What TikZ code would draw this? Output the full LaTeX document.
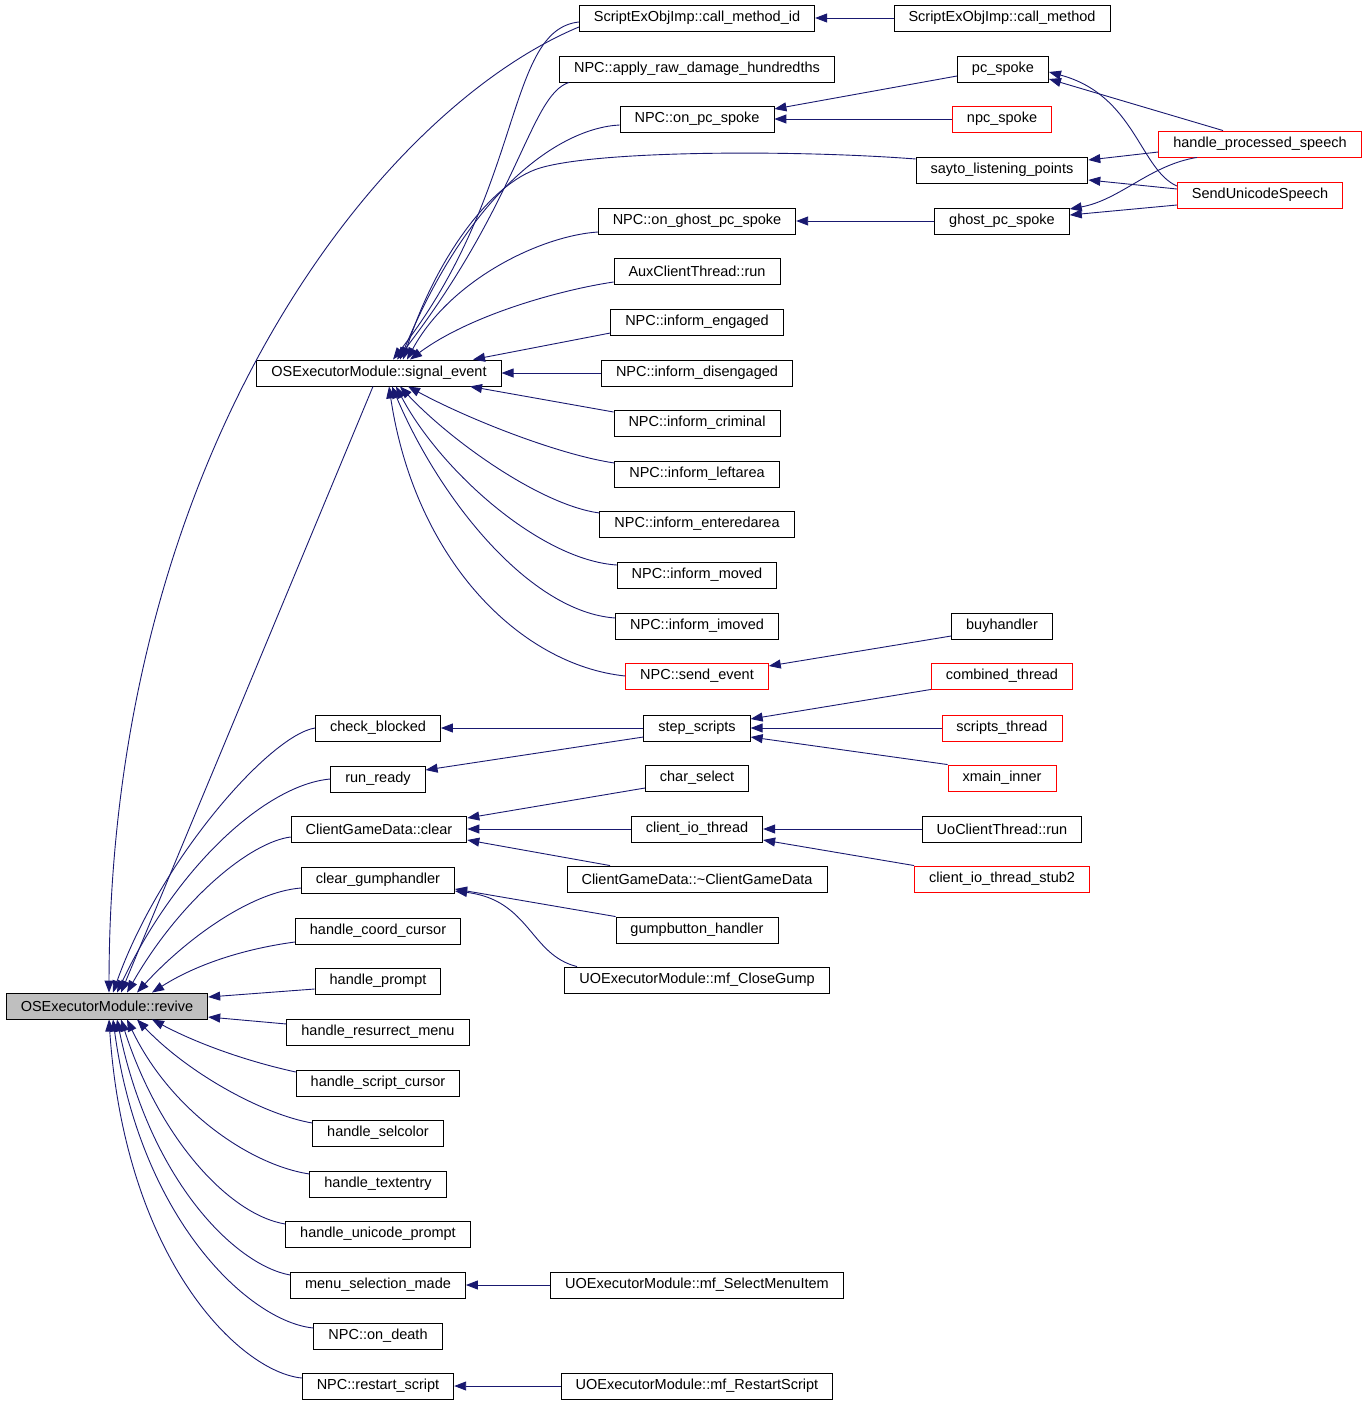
\documentclass[tikz,border=0pt]{standalone}
\usepackage{fontspec}
\usepackage{tikz}
\usetikzlibrary{arrows.meta}
\newfontfamily\doxfont{Liberation Sans}
\definecolor{edgeblue}{HTML}{191970}

\begin{document}
\begin{tikzpicture}[x=1pt,y=-1pt,
  fn/.style={draw=black,line width=0.9pt,fill=white,font=\doxfont\fontsize{14.5}{16}\selectfont,inner xsep=14.5pt,inner ysep=0pt,minimum height=26pt},
  fnred/.style={fn,draw=red},
  fnroot/.style={fn,fill=black!25},
  call/.style={draw=edgeblue,line width=0.9pt,-{Triangle[length=12pt,width=9pt]}}]
	\useasboundingbox (0,0) rectangle (1365,1405);
	% Root of the graph
	\node[fnroot] (revive) at (107,1006) {OSExecutorModule::revive};
	% Direct callers of revive
	\node[fn] (sigevent) at (379,373) {OSExecutorModule::signal\_event};
	\node[fn] (chkblocked) at (378,728) {check\_blocked};
	\node[fn] (runready) at (378,779) {run\_ready};
	\node[fn] (cgdclear) at (379,829) {ClientGameData::clear};
	\node[fn] (cleargump) at (378,880) {clear\_gumphandler};
	\node[fn] (hcoord) at (378,931) {handle\_coord\_cursor};
	\node[fn] (hprompt) at (378,981) {handle\_prompt};
	\node[fn] (hresurrect) at (378,1032) {handle\_resurrect\_menu};
	\node[fn] (hscript) at (378,1083) {handle\_script\_cursor};
	\node[fn] (hselcolor) at (378,1133) {handle\_selcolor};
	\node[fn] (htextentry) at (378,1184) {handle\_textentry};
	\node[fn] (hunicode) at (378,1234) {handle\_unicode\_prompt};
	\node[fn] (menusel) at (378,1285) {menu\_selection\_made};
	\node[fn] (ondeath) at (378,1336) {NPC::on\_death};
	\node[fn] (restart) at (378,1386) {NPC::restart\_script};
	% Third column
	\node[fn] (callid) at (697,18) {ScriptExObjImp::call\_method\_id};
	\node[fn] (rawdamage) at (697,69) {NPC::apply\_raw\_damage\_hundredths};
	\node[fn] (onpcspoke) at (697,119) {NPC::on\_pc\_spoke};
	\node[fn] (onghost) at (697,221) {NPC::on\_ghost\_pc\_spoke};
	\node[fn] (auxrun) at (697,271) {AuxClientThread::run};
	\node[fn] (engaged) at (697,322) {NPC::inform\_engaged};
	\node[fn] (disengaged) at (697,373) {NPC::inform\_disengaged};
	\node[fn] (criminal) at (697,423) {NPC::inform\_criminal};
	\node[fn] (leftarea) at (697,474) {NPC::inform\_leftarea};
	\node[fn] (enteredarea) at (697,524) {NPC::inform\_enteredarea};
	\node[fn] (moved) at (697,575) {NPC::inform\_moved};
	\node[fn] (imoved) at (697,626) {NPC::inform\_imoved};
	\node[fnred] (sendevent) at (697,676) {NPC::send\_event};
	\node[fn] (stepscripts) at (697,728) {step\_scripts};
	\node[fn] (charselect) at (697,778) {char\_select};
	\node[fn] (iothread) at (697,829) {client\_io\_thread};
	\node[fn] (cgddtor) at (697,879) {ClientGameData::\textasciitilde ClientGameData};
	\node[fn] (gumpbutton) at (697,930) {gumpbutton\_handler};
	\node[fn] (closegump) at (697,980) {UOExecutorModule::mf\_CloseGump};
	\node[fn] (selectmenu) at (697,1285) {UOExecutorModule::mf\_SelectMenuItem};
	\node[fn] (restartscr) at (697,1386) {UOExecutorModule::mf\_RestartScript};
	% Fourth column
	\node[fn] (callmethod) at (1002,18) {ScriptExObjImp::call\_method};
	\node[fn] (pcspoke) at (1003,69) {pc\_spoke};
	\node[fnred] (npcspoke) at (1002,119) {npc\_spoke};
	\node[fn] (sayto) at (1002,170) {sayto\_listening\_points};
	\node[fn] (ghostspoke) at (1002,221) {ghost\_pc\_spoke};
	\node[fn] (buyhandler) at (1002,626) {buyhandler};
	\node[fnred] (combined) at (1002,676) {combined\_thread};
	\node[fnred] (scriptsthr) at (1002,728) {scripts\_thread};
	\node[fnred] (xmain) at (1002,778) {xmain\_inner};
	\node[fn] (uoclient) at (1002,829) {UoClientThread::run};
	\node[fnred] (stub2) at (1002,879) {client\_io\_thread\_stub2};
	% Fifth column
	\node[fnred] (hpspeech) at (1260,144) {handle\_processed\_speech};
	\node[fnred] (unispeech) at (1260,195) {SendUnicodeSpeech};

	% Calls into revive, from above
	\draw[call] ([yshift=-9pt]callid.west) .. controls (380,110) and (110,450) .. ([xshift=2pt]revive.north);
	\draw[call] ([xshift=-6pt]sigevent.south) -- ([xshift=14pt]revive.north);
	\draw[call] (chkblocked.west) .. controls (270,735) and (160,860) .. ([xshift=6pt]revive.north);
	\draw[call] (runready.west) .. controls (270,784) and (180,860) .. ([xshift=10pt]revive.north);
	\draw[call] ([yshift=-8pt]cgdclear.west) .. controls (250,842) and (180,900) .. ([xshift=20pt]revive.north);
	\draw[call] ([yshift=-8pt]cleargump.west) .. controls (250,892) and (185,940) .. ([xshift=30pt]revive.north);
	\draw[call] ([yshift=-11pt]hcoord.west) .. controls (250,948) and (200,962) .. ([xshift=45pt]revive.north);
	\draw[call] ([yshift=-8pt]hprompt.west) -- ([yshift=9pt]revive.east);
	\draw[call] ([yshift=8pt]hresurrect.west) -- ([yshift=-11pt]revive.east);
	% Calls into revive, from below
	\draw[call] ([yshift=11pt]hscript.west) .. controls (250,1062) and (200,1045) .. ([xshift=45pt]revive.south);
	\draw[call] ([yshift=10pt]hselcolor.west) .. controls (265,1115) and (190,1075) .. ([xshift=30pt]revive.south);
	\draw[call] ([yshift=10pt]htextentry.west) .. controls (250,1165) and (170,1110) .. ([xshift=20pt]revive.south);
	\draw[call] ([yshift=10pt]hunicode.west) .. controls (230,1215) and (160,1140) .. ([xshift=14pt]revive.south);
	\draw[call] ([yshift=10pt]menusel.west) .. controls (235,1265) and (150,1180) .. ([xshift=10pt]revive.south);
	\draw[call] ([yshift=8pt]ondeath.west) .. controls (250,1322) and (140,1220) .. ([xshift=6pt]revive.south);
	\draw[call] ([yshift=8pt]restart.west) .. controls (240,1372) and (125,1260) .. ([xshift=2pt]revive.south);

	% Calls into signal_event
	\draw[call] ([yshift=-4pt]callid.west) .. controls (505,30) and (525,190) .. ([xshift=14pt]sigevent.north);
	\draw[call] ([xshift=-128pt]rawdamage.south) .. controls (530,95) and (520,200) .. ([xshift=18pt]sigevent.north);
	\draw[call] ([yshift=-6pt]onpcspoke.west) .. controls (560,128) and (470,190) .. ([xshift=21pt]sigevent.north);
	\draw[call] ([yshift=11pt]sayto.west) .. controls (800,150) and (600,150) .. (540,168) .. controls (490,183) and (435,260) .. ([xshift=24pt]sigevent.north);
	\draw[call] ([yshift=-11pt]onghost.west) .. controls (540,236) and (450,280) .. ([xshift=28pt]sigevent.north);
	\draw[call] ([yshift=-11pt]auxrun.west) .. controls (560,290) and (470,315) .. ([xshift=31pt]sigevent.north);
	\draw[call] ([yshift=-11pt]engaged.west) -- ([xshift=94pt]sigevent.north);
	\draw[call] (disengaged.west) -- (sigevent.east);
	\draw[call] ([yshift=11pt]criminal.west) -- ([xshift=91pt]sigevent.south);
	\draw[call] ([yshift=11pt]leftarea.west) .. controls (560,455) and (470,420) .. ([xshift=29pt]sigevent.south);
	\draw[call] ([yshift=11pt]enteredarea.west) .. controls (540,505) and (450,440) .. ([xshift=21pt]sigevent.south);
	\draw[call] ([yshift=10pt]moved.west) .. controls (540,560) and (440,470) .. ([xshift=17pt]sigevent.south);
	\draw[call] ([yshift=8pt]imoved.west) .. controls (530,612) and (440,500) .. ([xshift=13pt]sigevent.south);
	\draw[call] (sendevent.west) .. controls (520,665) and (415,560) .. ([xshift=10pt]sigevent.south);

	% Right-hand callers
	\draw[call] (callmethod.west) -- (callid.east);
	\draw[call] ([yshift=-7pt]pcspoke.west) -- ([yshift=10pt]onpcspoke.east);
	\draw[call] (npcspoke.west) -- (onpcspoke.east);
	\draw[call] (ghostspoke.west) -- (onghost.east);
	\draw[call] ([yshift=-10pt]buyhandler.west) -- ([yshift=10pt]sendevent.east);
	\draw[call] (combined.south west) -- ([yshift=9pt]stepscripts.east);
	\draw[call] (scriptsthr.west) -- (stepscripts.east);
	\draw[call] (xmain.north west) -- ([yshift=-9pt]stepscripts.east);
	\draw[call] (stepscripts.west) -- (chkblocked.east);
	\draw[call] ([yshift=-9pt]stepscripts.west) -- ([yshift=9pt]runready.east);
	\draw[call] ([yshift=-10pt]charselect.west) -- ([yshift=11pt]cgdclear.east);
	\draw[call] (iothread.west) -- (cgdclear.east);
	\draw[call] ([xshift=-87pt]cgddtor.north) -- ([yshift=-11pt]cgdclear.east);
	\draw[call] (uoclient.west) -- (iothread.east);
	\draw[call] (stub2.north west) -- ([yshift=-11pt]iothread.east);
	\draw[call] (gumpbutton.north west) -- ([yshift=-9pt]cleargump.east);
	\draw[call] ([xshift=-120pt]closegump.north) .. controls (530,955) and (530,900) .. ([yshift=-11pt]cleargump.east);
	\draw[call] (selectmenu.west) -- (menusel.east);
	\draw[call] (restartscr.west) -- (restart.east);

	% Speech handlers
	\draw[call] ([xshift=-37pt]hpspeech.north) -- ([yshift=-10pt]pcspoke.east);
	\draw[call] ([yshift=9pt]unispeech.west) .. controls (1140,170) and (1135,95) .. ([yshift=-3pt]pcspoke.east);
	\draw[call] ([yshift=-8pt]hpspeech.west) -- ([yshift=10pt]sayto.east);
	\draw[call] ([yshift=6pt]unispeech.west) -- ([yshift=-10pt]sayto.east);
	\draw[call] ([xshift=-63pt]hpspeech.south) .. controls (1150,165) and (1120,200) .. ([yshift=12pt]ghostspoke.east);
	\draw[call] ([yshift=-10pt]unispeech.west) -- ([yshift=6pt]ghostspoke.east);
\end{tikzpicture}
\end{document}
